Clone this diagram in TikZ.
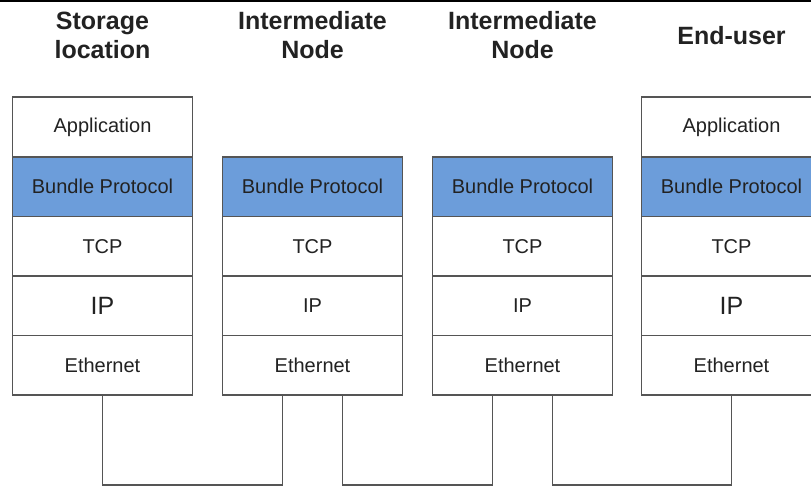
\documentclass[tikz,border=0pt]{standalone}
\usepackage{fontspec}
\setmainfont{Liberation Sans}
\definecolor{bpblue}{RGB}{108,157,218}
\definecolor{edge}{RGB}{85,85,85}
\definecolor{ink}{RGB}{34,34,34}
\begin{document}
\begin{tikzpicture}[x=1pt,y=-1pt,
  cell/.style={draw=edge, line width=1.6pt, fill=white, minimum width=180pt,
    minimum height=59.6pt, inner sep=0pt, text=ink,
    font=\fontsize{20}{24}\selectfont},
  bp/.style={cell, fill=bpblue},
  bigip/.style={cell, font=\fontsize{25}{28}\selectfont},
  head/.style={align=center, text=ink, inner sep=0pt,
    font=\bfseries\fontsize{25}{29}\selectfont},
  wire/.style={draw=edge, line width=1.5pt}]
\useasboundingbox (0,0) rectangle (811,486);
\clip (0,0) rectangle (811,486);
% rule along the top edge
\fill[black] (0,0) rectangle (811,2.5);

% column headings
\node[head] (h1) at (102.5,35) {Storage\\location};
\node[head] (h2) at (312.5,35) {Intermediate\\Node};
\node[head] (h3) at (522.5,35) {Intermediate\\Node};
\node[head] (h4) at (731.5,36) {End-user};

% storage location stack
\node[cell]  (a1) at (102.5,127)   {Application};
\node[bp]    (b1) at (102.5,186.6) {Bundle Protocol};
\node[cell]  (t1) at (102.5,246.2) {TCP};
\node[bigip] (i1) at (102.5,305.8) {IP};
\node[cell]  (e1) at (102.5,365.4) {Ethernet};

% first intermediate node
\node[bp]   (b2) at (312.5,186.6) {Bundle Protocol};
\node[cell] (t2) at (312.5,246.2) {TCP};
\node[cell] (i2) at (312.5,305.8) {IP};
\node[cell] (e2) at (312.5,365.4) {Ethernet};

% second intermediate node
\node[bp]   (b3) at (522.5,186.6) {Bundle Protocol};
\node[cell] (t3) at (522.5,246.2) {TCP};
\node[cell] (i3) at (522.5,305.8) {IP};
\node[cell] (e3) at (522.5,365.4) {Ethernet};

% end-user stack
\node[cell]  (a4) at (731.5,127)   {Application};
\node[bp]    (b4) at (731.5,186.6) {Bundle Protocol};
\node[cell]  (t4) at (731.5,246.2) {TCP};
\node[bigip] (i4) at (731.5,305.8) {IP};
\node[cell]  (e4) at (731.5,365.4) {Ethernet};

% Ethernet links between neighbouring stacks (lowest point of each link)
\coordinate (l1) at (192,485);
\coordinate (l2) at (417,485);
\coordinate (l3) at (642,485);
\draw[wire] (e1.south) |- (l1) -| ([xshift=-30pt]e2.south);
\draw[wire] ([xshift=30pt]e2.south) |- (l2) -| ([xshift=-30pt]e3.south);
\draw[wire] ([xshift=30pt]e3.south) |- (l3) -| (e4.south);
\end{tikzpicture}
\end{document}
